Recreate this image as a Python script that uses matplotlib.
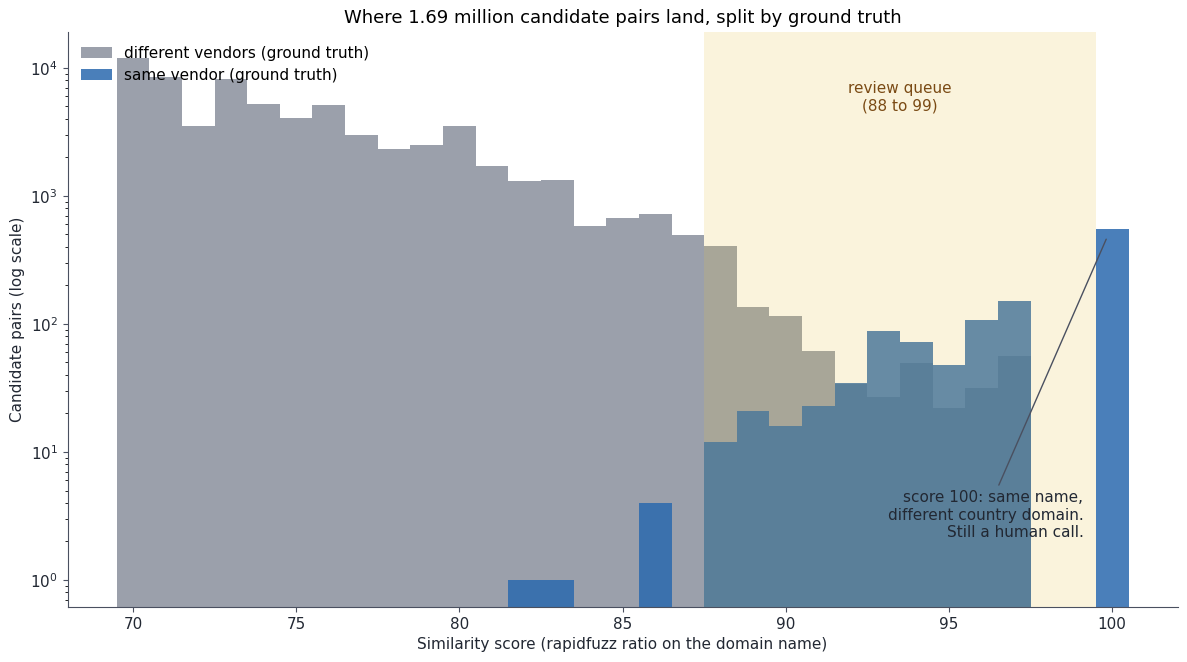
import numpy as np
import matplotlib
matplotlib.use("Agg")
import matplotlib.pyplot as plt

# similarity score bins (integer scores, one bin each)
scores = [70, 71, 72, 73, 74, 75, 76, 77, 78, 79, 80, 81, 82, 83, 84, 85,
          86, 87, 88, 89, 90, 91, 92, 93, 94, 95, 96, 97, 98, 99, 100]

# candidate pairs per score
diff_counts = [12000, 8460, 3520, 8160, 5230, 4070, 5140, 3000, 2330, 2500,
               3520, 1710, 1310, 1333, 583, 673, 723, 496, 407, 136, 115,
               61.5, 34, 27, 49.6, 22, 31.6, 56, 0, 0, 0]
same_counts = [0, 0, 0, 0, 0, 0, 0, 0, 0, 0,
               0, 0, 1, 1, 0, 0, 4, 0, 12, 21, 16,
               23, 34.6, 88, 72, 48, 107, 151, 0, 0, 552]

queue_lo, queue_hi = 87.5, 99.5

edges = np.append(np.array(scores) - 0.5, scores[-1] + 0.5)

fig, ax = plt.subplots(figsize=(11.87, 6.62), dpi=100)

ax.hist(scores, bins=edges, weights=diff_counts, color="#9ba0ab",
        label="different vendors (ground truth)", zorder=1)
ax.hist(scores, bins=edges, weights=same_counts, color="#2a69ae", alpha=0.85,
        label="same vendor (ground truth)", zorder=2)

ax.axvspan(queue_lo, queue_hi, color="#e5c047", alpha=0.19, lw=0, zorder=3)

ax.set_yscale("log")
ax.set_xlim(68, 102)
ax.set_ylim(0.615, 19100)

ax.text((queue_lo + queue_hi) / 2, 5900, "review queue\n(88 to 99)",
        ha="center", va="center", color="#7a4a14", fontsize=11, zorder=5)

ax.annotate("score 100: same name,\ndifferent country domain.\nStill a human call.",
            xy=(99.85, 480), xytext=(99.12, 3.2), ha="right", va="center",
            color="#222833", fontsize=11, zorder=5,
            arrowprops=dict(arrowstyle="-", color="#4a5060", lw=1))

ax.set_title("Where 1.69 million candidate pairs land, split by ground truth",
             fontsize=13)
ax.set_xlabel("Similarity score (rapidfuzz ratio on the domain name)", fontsize=11, color="#222833")
ax.set_ylabel("Candidate pairs (log scale)", fontsize=11, color="#222833")

ax.spines["top"].set_visible(False)
ax.spines["right"].set_visible(False)
ax.spines["left"].set_color("#4a5060")
ax.spines["bottom"].set_color("#4a5060")
ax.tick_params(labelsize=11, colors="#4a5060", labelcolor="#222833")

ax.legend(loc="upper left", frameon=False, fontsize=11)

fig.subplots_adjust(left=0.057, right=0.992, top=0.952, bottom=0.083)
fig.savefig("out.png", dpi=100)
